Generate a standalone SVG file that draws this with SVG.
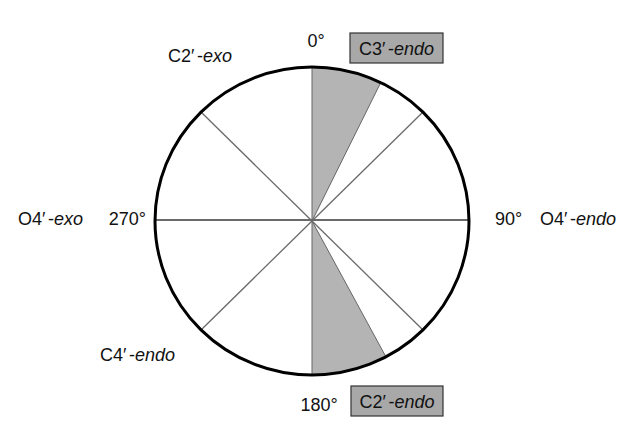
<svg xmlns="http://www.w3.org/2000/svg" width="639" height="433" viewBox="0 0 639 433">
<style>
text{font-family:"Liberation Sans",Arial,sans-serif;font-size:18px;fill:#111}
.i{font-style:italic}
.wedge{fill:#b4b4b4;stroke:#666;stroke-width:1}
.spoke{stroke:#6a6a6a;stroke-width:1.3;fill:none}
.box{fill:#a8a8a8;stroke:#333;stroke-width:1.2}
</style>
<rect width="639" height="433" fill="#fff"/>
<g id="wedges">
<path class="wedge" d="M312,221 L312,67 A157,154 0 0 1 381,82 Z"/>
<path class="wedge" d="M312,221 L312,375 A157,154 0 0 0 386,357 Z"/>
</g>
<g id="connectors">
<line class="spoke" x1="155" y1="220" x2="469" y2="220" style="stroke-width:2"/>
<line class="spoke" x1="312" y1="221" x2="423" y2="112"/>
<line class="spoke" x1="312" y1="221" x2="423" y2="330"/>
<line class="spoke" x1="312" y1="221" x2="201" y2="330"/>
<line class="spoke" x1="312" y1="221" x2="201" y2="112"/>
</g>
<g id="circle">
<ellipse cx="312" cy="221" rx="157" ry="154" fill="none" stroke="#000" stroke-width="3"/>
</g>
<g id="label-0"><text x="316" y="47" text-anchor="middle">0°</text></g>
<g id="label-180"><text x="319" y="411" text-anchor="middle">180°</text></g>
<g id="label-90"><text x="495" y="225">90°</text></g>
<g id="label-270"><text x="146" y="225" text-anchor="end">270°</text></g>
<g id="node-c3endo">
<rect class="box" x="350" y="33" width="93" height="30"/>
<text x="396.5" y="54.5" text-anchor="middle">C3′<tspan dx="2.5">-</tspan><tspan class="i">endo</tspan></text>
</g>
<g id="node-c2endo">
<rect class="box" x="351" y="386" width="92" height="30"/>
<text x="397" y="407.5" text-anchor="middle">C2′<tspan dx="2.5">-</tspan><tspan class="i">endo</tspan></text>
</g>
<g id="label-c2exo"><text x="168" y="62">C2′<tspan dx="2.5">-</tspan><tspan class="i">exo</tspan></text></g>
<g id="label-c4endo"><text x="100" y="361">C4′<tspan dx="2.5">-</tspan><tspan class="i">endo</tspan></text></g>
<g id="label-o4exo"><text x="18" y="225">O4′<tspan dx="2.5">-</tspan><tspan class="i">exo</tspan></text></g>
<g id="label-o4endo"><text x="540" y="225">O4′<tspan dx="2.5">-</tspan><tspan class="i">endo</tspan></text></g>
</svg>
